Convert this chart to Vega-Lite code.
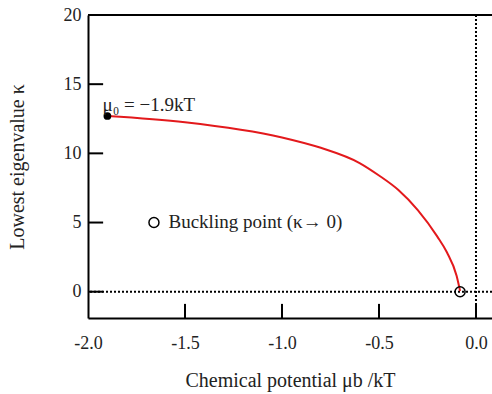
{
  "$schema": "https://vega.github.io/schema/vega-lite/v6.json",
  "width": 404,
  "height": 303,
  "autosize": {"type": "none"},
  "padding": {"left": 88, "top": 15, "right": 0, "bottom": 76},
  "background": "white",
  "config": {
    "view": {"stroke": null},
    "font": "Liberation Serif",
    "axis": {
      "domainColor": "black",
      "domainWidth": 2,
      "ticks": false,
      "grid": false,
      "labelFlush": false,
      "labelOverlap": false,
      "labelFont": "Liberation Serif",
      "labelFontSize": 18,
      "labelColor": "#222",
      "titleFont": "Liberation Serif",
      "titleFontSize": 20,
      "titleFontWeight": "normal",
      "titleColor": "#222"
    }
  },
  "layer": [
    {
      "data": {"values": [{}]},
      "mark": {"type": "rule", "color": "black", "strokeWidth": 2},
      "encoding": {"y": {"datum": 20, "type": "quantitative"}}
    },
    {
      "data": {"values": [{}]},
      "mark": {"type": "rule", "color": "black", "strokeWidth": 2, "strokeDash": [2, 2]},
      "encoding": {"y": {"datum": 0, "type": "quantitative"}}
    },
    {
      "data": {"values": [{}]},
      "mark": {"type": "rule", "color": "black", "strokeWidth": 2, "strokeDash": [2, 2]},
      "encoding": {"x": {"datum": 0, "type": "quantitative"}}
    },
    {
      "data": {"values": [{"mu": -1.5}, {"mu": -1.0}, {"mu": -0.5}, {"mu": 0}]},
      "mark": {"type": "rule", "color": "black", "strokeWidth": 2},
      "encoding": {
        "x": {"field": "mu", "type": "quantitative"},
        "y": {"datum": -1.9, "type": "quantitative"},
        "y2": {"datum": -0.88}
      }
    },
    {
      "data": {"values": [{"kappa": 0}, {"kappa": 5}, {"kappa": 10}, {"kappa": 15}]},
      "mark": {"type": "rule", "color": "black", "strokeWidth": 2},
      "encoding": {
        "y": {"field": "kappa", "type": "quantitative"},
        "x": {"datum": -2, "type": "quantitative"},
        "x2": {"datum": -1.922}
      }
    },
    {
      "data": {"values": [
        {"mu": -1.9, "kappa": 12.7},
        {"mu": -1.5, "kappa": 12.25},
        {"mu": -1.0, "kappa": 11.15},
        {"mu": -0.8, "kappa": 10.4},
        {"mu": -0.6, "kappa": 9.3},
        {"mu": -0.5, "kappa": 8.4},
        {"mu": -0.4, "kappa": 7.35},
        {"mu": -0.3, "kappa": 5.9},
        {"mu": -0.2, "kappa": 4.0},
        {"mu": -0.15, "kappa": 2.85},
        {"mu": -0.1, "kappa": 1.15},
        {"mu": -0.082, "kappa": 0.05}
      ]},
      "mark": {"type": "line", "color": "#e3191c", "strokeWidth": 2, "interpolate": "monotone"},
      "encoding": {
        "x": {
          "field": "mu",
          "type": "quantitative",
          "scale": {"domain": [-2, 0.0825], "nice": false, "zero": false},
          "axis": {
            "values": [-2, -1.5, -1, -0.5, 0],
            "labelExpr": "replace(format(datum.value, '.1f'), '\u2212', '-')",
            "labelPadding": 16,
            "title": "Chemical potential \u03bcb /kT",
            "titlePadding": 18
          }
        },
        "y": {
          "field": "kappa",
          "type": "quantitative",
          "scale": {"domain": [-1.9, 20], "nice": false, "zero": false},
          "axis": {
            "values": [0, 5, 10, 15, 20],
            "labelPadding": 7,
            "title": "Lowest eigenvalue \u03ba",
            "titleFontSize": 20,
            "titlePadding": 36
          }
        }
      }
    },
    {
      "data": {"values": [{"mu": -1.9, "kappa": 12.7}]},
      "mark": {"type": "point", "filled": true, "color": "black", "size": 60, "opacity": 1},
      "encoding": {
        "x": {"field": "mu", "type": "quantitative"},
        "y": {"field": "kappa", "type": "quantitative"}
      }
    },
    {
      "data": {"values": [{"mu": -0.082, "kappa": 0}, {"mu": -1.66, "kappa": 5}]},
      "mark": {"type": "point", "filled": false, "color": "black", "size": 100, "strokeWidth": 1.5, "opacity": 1},
      "encoding": {
        "x": {"field": "mu", "type": "quantitative"},
        "y": {"field": "kappa", "type": "quantitative"}
      }
    },
    {
      "data": {"values": [
        {"mu": -1.925, "kappa": 13.4, "label": "\u03bc\u2080 = \u22121.9kT"},
        {"mu": -1.585, "kappa": 5, "label": "Buckling point (\u03ba\u2192 0)"}
      ]},
      "mark": {"type": "text", "align": "left", "baseline": "middle", "fontSize": 19, "font": "Liberation Serif", "color": "#222", "dy": -1},
      "encoding": {
        "x": {"field": "mu", "type": "quantitative"},
        "y": {"field": "kappa", "type": "quantitative"},
        "text": {"field": "label"}
      }
    }
  ]
}
